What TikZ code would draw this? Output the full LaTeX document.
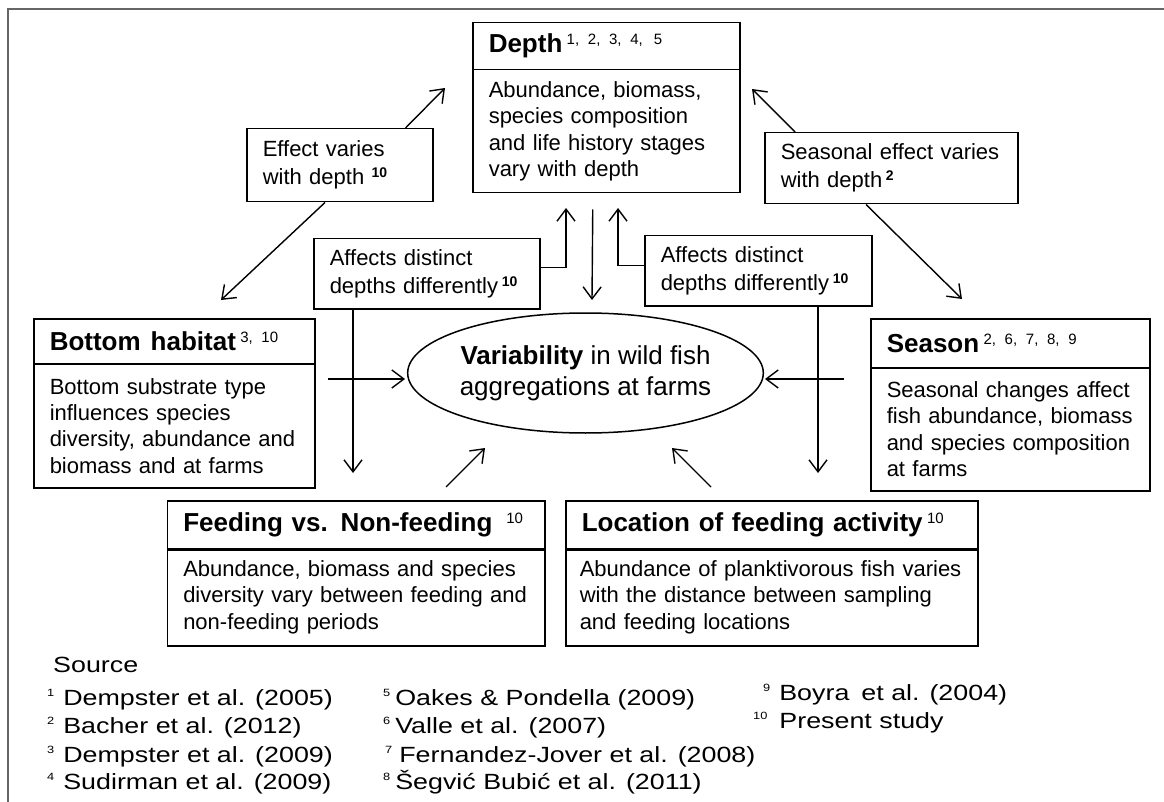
\documentclass[tikz,border=0pt]{standalone}
\usepackage{fontspec}
\setmainfont{Liberation Sans}
\newfontfamily\srcfont{Liberation Sans}[FakeStretch=1.22]
\usetikzlibrary{arrows.meta,calc,shapes.geometric}

\newcommand{\tsup}[1]{\raisebox{8pt}{\fontsize{15}{15}\selectfont\mdseries #1}}
\newcommand{\lsup}[1]{\raisebox{7pt}{\fontsize{14}{14}\selectfont\bfseries #1}}
\newcommand{\ssup}[1]{\raisebox{8.5pt}{\fontsize{10.5}{10.5}\selectfont #1}}

\begin{document}
\begin{tikzpicture}[x=1pt,y=-1pt,
  box/.style={draw=black, line width=1.5pt, anchor=north west, inner xsep=16pt, inner ysep=0pt, align=left},
  hdr/.style={box, font=\fontsize{26}{30}\selectfont\bfseries},
  bdy/.style={box, font=\fontsize{22}{26.3}\selectfont},
  lbl/.style={box, font=\fontsize{22}{28}\selectfont},
  arr/.style={line width=1.4pt, -{Straight Barb[length=12pt,width=18pt,line width=1.4pt]}},
  src/.style={anchor=base west, inner sep=0pt, font=\srcfont\fontsize{22}{26}\selectfont},
  frame/.style={draw=black!60, line width=2pt},
]
\useasboundingbox (0,0) rectangle (1164,802);
\fill[white] (0,0) rectangle (1164,802);

% outer frame (top and left only)
\draw[frame] (1164,9.5) -| (7.5,802);

% Depth
\node[hdr, minimum width=267pt, minimum height=47pt, text width=235pt] (depthH) at (472,22) {Depth\,\tsup{1, 2, 3, 4,\, 5}};
\node[bdy, minimum width=267pt, minimum height=123pt, text width=235pt] (depthB) at (472,69) {Abundance, biomass,\\species composition\\and life history stages\\vary with depth};

% label boxes
\node[lbl, minimum width=186pt, minimum height=73pt, text width=154pt] (effect) at (246,128) {Effect varies\\with depth \lsup{10}};
\node[lbl, minimum width=253pt, minimum height=71pt, text width=221pt] (seas) at (764,132) {Seasonal effect varies\\with depth\,\lsup{2}};
\node[lbl, minimum width=226pt, minimum height=70pt, text width=194pt] (affL) at (313,238) {Affects distinct\\depths differently\,\lsup{10}};
\node[lbl, minimum width=227pt, minimum height=70pt, text width=195pt] (affR) at (644,235) {Affects distinct\\depths differently\,\lsup{10}};

% Bottom habitat
\node[hdr, minimum width=281pt, minimum height=45pt, text width=249pt] (bhH) at (33,318) {Bottom\hspace{10pt}habitat\,\tsup{3, 10}};
\node[bdy, minimum width=281pt, minimum height=124pt, text width=249pt] (bhB) at (33,363) {Bottom substrate type\\influences species\\diversity, abundance and\\biomass and at farms};

% Season
\node[hdr, minimum width=279pt, minimum height=49pt, text width=247pt] (seaH) at (870,318) {Season\,\tsup{2, 6, 7, 8, 9}};
\node[bdy, minimum width=279pt, minimum height=123pt, text width=247pt] (seaB) at (870,367) {Seasonal changes affect\\fish abundance, biomass\\and species composition\\at farms};

% Feeding vs non-feeding
\node[hdr, minimum width=377.5pt, minimum height=48pt, text width=345.5pt] (feedH) at (166.5,500) {Feeding vs. Non-feeding\hspace{14pt}\tsup{10}};
\node[bdy, minimum width=377.5pt, minimum height=97pt, text width=345.5pt] (feedB) at (166.5,548) {Abundance, biomass and species\\diversity vary between feeding and\\non-feeding periods};
\draw[line width=3pt] (feedH.south west) -- (feedH.south east);

% Location of feeding activity
\node[hdr, minimum width=412pt, minimum height=48pt, text width=380pt] (locH) at (565,500) {Location of feeding activity\,\tsup{10}};
\node[bdy, inner xsep=14pt, minimum width=412pt, minimum height=97pt, text width=384pt] (locB) at (565,548) {\mbox{Abundance of planktivorous fish varies}\\with the distance between sampling\\and feeding locations};
\draw[line width=3pt] (locH.south west) -- (locH.south east);

% central ellipse
\node[draw, ellipse, line width=1.5pt, minimum width=333pt, minimum height=120pt, inner sep=0pt, align=center, font=\fontsize{26}{31}\selectfont] (var) at (585.5,373) {\textbf{Variability} in wild fish\\aggregations at farms};

% free arrow ends
\coordinate (tEffUp) at (445,88);
\coordinate (tEffDn) at (221,300);
\coordinate (tSeaUp) at (752,89);
\coordinate (tSeaDn) at (962,299);
\coordinate (tAffL) at (566,208);
\coordinate (tAffR) at (618,208);
\coordinate (tDepth) at (592,300);
\coordinate (tDownL) at (353,473);
\coordinate (tDownR) at (818,473);
\coordinate (tBH) at (405,379);
\coordinate (tSea) at (765,379);
\coordinate (tFeed) at (485,448);
\coordinate (tLoc) at (672,448);

% connectors
\draw[arr] ([xshift=-28pt]effect.north east) -- (tEffUp);
\draw[arr] ([xshift=79pt]effect.south west) -- (tEffDn);
\draw[arr] ([xshift=31pt]seas.north west) -- (tSeaUp);
\draw[arr] ([xshift=102pt]seas.south west) -- (tSeaDn);
\draw[arr] ([yshift=6pt]affL.east) -| (tAffL);
\draw[arr] ([yshift=5pt]affR.west) -| (tAffR);
\draw[arr] ([xshift=-13.5pt,yshift=-16pt]depthB.south) -- (tDepth);
\draw[arr] ([xshift=40pt]affL.south west) -- (tDownL);
\draw[arr] ([xshift=174pt]affR.south west) -- (tDownR);
\draw[arr] ([xshift=12pt,yshift=-16pt]bhB.north east) -- (tBH);
\draw[arr] ([xshift=-26pt,yshift=-12pt]seaB.north west) -- (tSea);
\draw[arr] ([xshift=279.5pt,yshift=13pt]feedH.north west) -- (tFeed);
\draw[arr] ([xshift=146pt,yshift=13pt]locH.north west) -- (tLoc);

% sources
\node[src] (srcT) at (53,672) {Source};
\node[src] (s1) at (47,705) {\ssup{1}\hspace{9pt}Dempster et al. (2005)};
\node[src] (s2) at (47,733) {\ssup{2}\hspace{9pt}Bacher et al. (2012)};
\node[src] (s3) at (47,762) {\ssup{3}\hspace{9pt}Dempster et al. (2009)};
\node[src] (s4) at (47,789) {\ssup{4}\hspace{9pt}Sudirman et al. (2009)};
\node[src] (s5) at (383,705) {\ssup{5}\hspace{5pt}Oakes \& Pondella (2009)};
\node[src] (s6) at (383,733) {\ssup{6}\hspace{5pt}Valle et al. (2007)};
\node[src] (s7) at (385,762) {\ssup{7}\hspace{7pt}Fernandez-Jover et al. (2008)};
\node[src] (s8) at (383,789) {\ssup{8}\hspace{5pt}Šegvić Bubić et al. (2011)};
\node[src] (s9) at (763,700) {\ssup{9}\hspace{9pt}Boyra\hspace{12pt}et al. (2004)};
\node[src] (s10) at (753,728) {\ssup{10}\hspace{12pt}Present study};
\end{tikzpicture}
\end{document}
